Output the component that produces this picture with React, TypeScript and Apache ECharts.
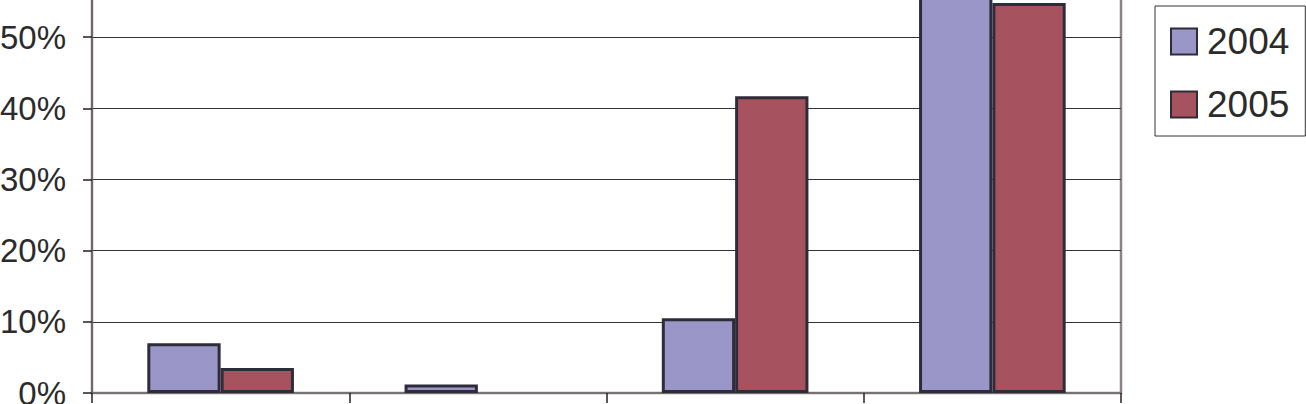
import React, { useEffect, useRef } from "react";
import * as echarts from "echarts";

const categories = ["Category 1", "Category 2", "Category 3", "Category 4"];
const series2004 = [7.0, 1.2, 10.5, 58.0];
const series2005 = [3.5, 0, 41.7, 54.8];
const seriesNames = ["2004", "2005"];

export default function App() {
  const ref = useRef<HTMLDivElement>(null);
  useEffect(() => {
    if (!ref.current) return;
    const chart = echarts.init(ref.current, null, { renderer: "svg" });
    const font = "'Liberation Sans', Arial, sans-serif";
    const toData = (arr: number[]) =>
      arr.map((v) => (v === 0 ? { value: v, itemStyle: { borderWidth: 0 } } : v));
    chart.setOption({
      animation: false,
      backgroundColor: "#ffffff",
      grid: {
        left: 92,
        right: 185,
        top: -34,
        bottom: 11,
        containLabel: false,
        outerBoundsMode: "none",
        show: true,
        borderColor: "#8c8482",
        borderWidth: 2.5,
        backgroundColor: "transparent",
      },
      legend: {
        orient: "vertical",
        left: 1155,
        top: 6,
        padding: [17, 16, 13, 15],
        itemWidth: 26,
        itemHeight: 26,
        itemGap: 26,
        borderColor: "#333333",
        borderWidth: 1,
        borderRadius: 0,
        icon: "rect",
        textStyle: {
          fontFamily: font,
          fontSize: 37,
          lineHeight: 36,
          color: "#2b2b2b",
          padding: [0, 0, 0, 5],
        },
        data: seriesNames,
      },
      xAxis: {
        type: "category",
        data: categories,
        axisLine: { show: true, lineStyle: { color: "#777171", width: 2 } },
        axisTick: { show: true, length: 10, lineStyle: { color: "#222222", width: 1.5 } },
        axisLabel: { show: false },
        splitLine: { show: false },
      },
      yAxis: {
        type: "value",
        min: 0,
        max: 60,
        interval: 10,
        axisLine: { show: true, lineStyle: { color: "#6e6866", width: 2 } },
        axisTick: { show: true, length: 9, lineStyle: { color: "#222222", width: 1.5 } },
        axisLabel: {
          margin: 26,
          fontFamily: font,
          fontSize: 33,
          color: "#2b2b2b",
          formatter: (v: number) => `${v}%`,
        },
        splitLine: { show: true, lineStyle: { color: "#333333", width: 1 } },
      },
      series: [
        {
          name: seriesNames[0],
          type: "bar",
          data: toData(series2004),
          barGap: "0%",
          barCategoryGap: "43%",
          itemStyle: { color: "#9a97c8", borderColor: "#2f2c3a", borderWidth: 3 },
        },
        {
          name: seriesNames[1],
          type: "bar",
          data: toData(series2005),
          barGap: "0%",
          barCategoryGap: "43%",
          itemStyle: { color: "#a6535f", borderColor: "#2f2c3a", borderWidth: 3 },
        },
      ],
    });
    return () => chart.dispose();
  }, []);
  return <div ref={ref} style={{ width: 1306, height: 404, position: "absolute", left: 0, top: 0 }} />;
}
